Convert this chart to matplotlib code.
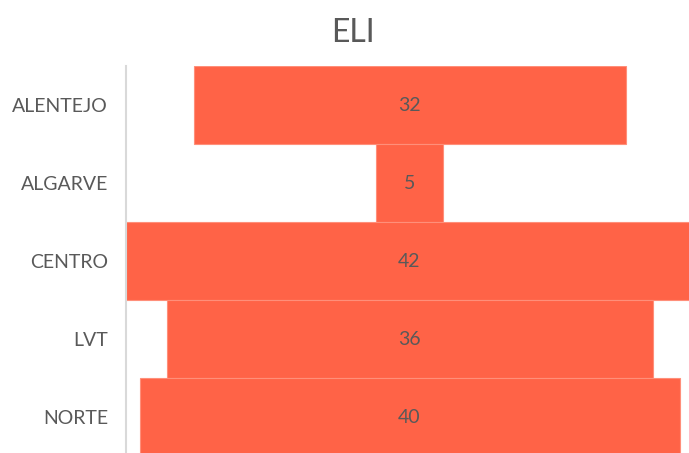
import matplotlib.pyplot as plt

regions = ["ALENTEJO", "ALGARVE", "CENTRO", "LVT", "NORTE"]
eli = [32, 5, 42, 36, 40]

plt.rcParams['font.family'] = ['Lato', 'DejaVu Sans']

fig = plt.figure(figsize=(6.89, 4.53), dpi=100)
# axes spans a little past the right and bottom edges of the figure
ax = fig.add_axes([126 / 689, -3 / 453, 567 / 689, 390 / 453])

ypos = list(range(len(regions)))
lefts = [-v / 2 for v in eli]
ax.barh(ypos, eli, left=lefts, height=1.0, color="#FF6347",
        edgecolor="#FF8F7A", linewidth=0.8)

for y, v in zip(ypos, eli):
    ax.text(0, y, str(v), ha="center", va="center", fontsize=14, color="#595959")

ax.set_xlim(-21, 21)
ax.set_ylim(len(regions) - 0.5, -0.5)
ax.set_yticks(ypos)
ax.set_yticklabels(regions, fontsize=14, color="#595959")
ax.tick_params(axis="y", length=0, pad=13)
ax.set_xticks([])

for s in ["top", "right", "bottom"]:
    ax.spines[s].set_visible(False)
ax.spines["left"].set_color("#D9D9D9")
ax.spines["left"].set_linewidth(1.5)

fig.text(353 / 689, 1 - 33 / 453, "ELI", ha="center", va="center", fontsize=23, color="#595959")

fig.savefig("out.png", dpi=100)
